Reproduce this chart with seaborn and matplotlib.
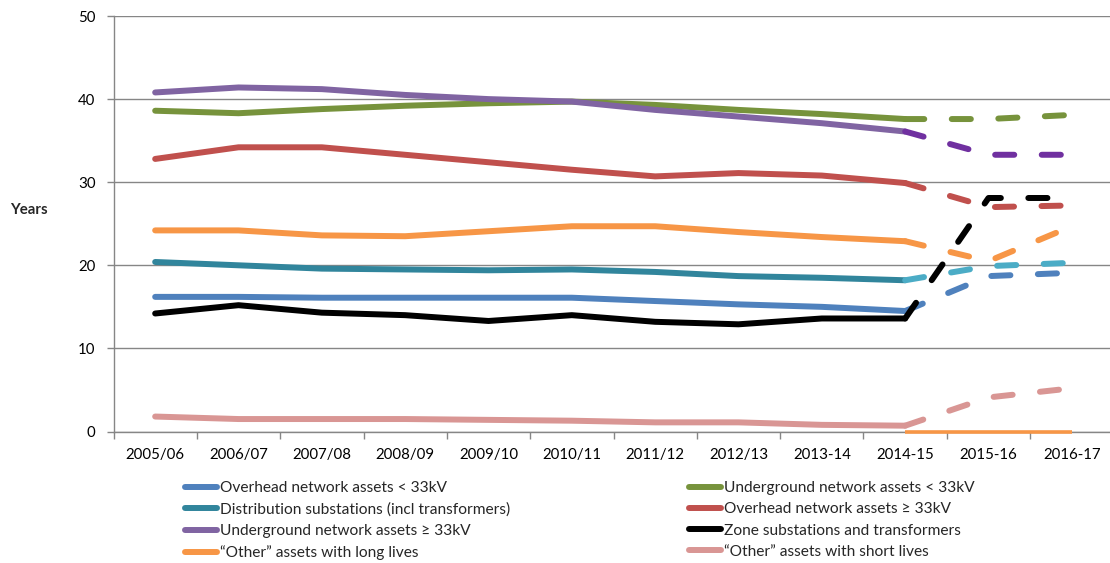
import matplotlib
matplotlib.use("Agg")
import matplotlib.pyplot as plt
from matplotlib.lines import Line2D
from matplotlib.ticker import FixedLocator, NullFormatter
import seaborn as sns
import pandas as pd

categories = ['2005/06', '2006/07', '2007/08', '2008/09', '2009/10', '2010/11',
              '2011/12', '2012/13', '2013-14', '2014-15', '2015-16', '2016-17']
hist_cats = categories[:10]
fcst_cats = categories[9:]

series_names = [
    'Overhead network assets < 33kV',
    'Distribution substations (incl transformers)',
    'Underground network assets ≥ 33kV',
    '“Other” assets with long lives',
    'Underground network assets < 33kV',
    'Overhead network assets ≥ 33kV',
    'Zone substations and transformers',
    '“Other” assets with short lives',
]

overhead_lt33 = [16.2, 16.2, 16.1, 16.1, 16.1, 16.1, 15.7, 15.3, 15.0, 14.5]
distribution = [20.4, 20.0, 19.6, 19.5, 19.4, 19.5, 19.2, 18.7, 18.5, 18.2]
underground_ge33 = [40.8, 41.4, 41.2, 40.5, 40.0, 39.7, 38.7, 37.9, 37.1, 36.1]
other_long = [24.2, 24.2, 23.6, 23.5, 24.1, 24.7, 24.7, 24.0, 23.4, 22.9]
underground_lt33 = [38.6, 38.3, 38.8, 39.2, 39.5, 39.7, 39.3, 38.7, 38.2, 37.6]
overhead_ge33 = [32.8, 34.2, 34.2, 33.3, 32.4, 31.5, 30.7, 31.1, 30.8, 29.9]
zone = [14.2, 15.2, 14.3, 14.0, 13.3, 14.0, 13.2, 12.9, 13.6, 13.6]
other_short = [1.8, 1.5, 1.5, 1.5, 1.4, 1.3, 1.1, 1.1, 0.8, 0.7]

# forecast (dashed) values: 2014-15, 2015-16, 2016-17
overhead_lt33_f = [14.5, 18.7, 19.1]
distribution_f = [18.2, 19.9, 20.3]
underground_ge33_f = [36.1, 33.3, 33.3]
other_long_f = [22.9, 20.5, 24.7]
underground_lt33_f = [37.6, 37.6, 38.1]
overhead_ge33_f = [29.9, 27.0, 27.2]
zone_f = [13.6, 28.1, 28.1]
other_short_f = [0.7, 4.1, 5.2]
other_long_zero = [0.0, 0.0, 0.0]

hist = [overhead_lt33, distribution, underground_ge33, other_long,
        underground_lt33, overhead_ge33, zone, other_short]
fcst = [overhead_lt33_f, distribution_f, underground_ge33_f, other_long_f,
        underground_lt33_f, overhead_ge33_f, zone_f, other_short_f]

solid_colors = ['#4F81BD', '#31859C', '#8064A2', '#F79646',
                '#77933C', '#C0504D', '#000000', '#D99694']
dash_colors = ['#4F81BD', '#4BACC6', '#7030A0', '#F79646',
               '#77933C', '#C0504D', '#000000', '#D99694']

sns.set_style('white')
plt.rcParams['font.family'] = ['Lato', 'DejaVu Sans']

fig = plt.figure(figsize=(11.1, 5.63), dpi=100)
ax = fig.add_axes([113.5 / 1110, (563 - 431.5) / 563, 1000 / 1110, 415.5 / 563])

LW = 4.3
grid_c = '#868686'

draw_order = [0, 4, 1, 5, 2, 6, 3, 7]
for i in draw_order:
    df_h = pd.DataFrame({'period': hist_cats, 'years': hist[i]})
    sns.lineplot(data=df_h, x='period', y='years', ax=ax, sort=False,
                 color=solid_colors[i], lw=LW, solid_capstyle='round',
                 solid_joinstyle='round', zorder=3)

df_zero = pd.DataFrame({'period': fcst_cats, 'years': other_long_zero})
sns.lineplot(data=df_zero, x='period', y='years', ax=ax, sort=False,
             color='#F79646', lw=2.6, solid_capstyle='butt', zorder=5, clip_on=False)

for i in draw_order:
    df_f = pd.DataFrame({'period': fcst_cats, 'years': fcst[i]})
    sns.lineplot(data=df_f, x='period', y='years', ax=ax, sort=False,
                 color=dash_colors[i], lw=LW, linestyle=(0, (3.2, 4.6)),
                 dash_capstyle='round', dash_joinstyle='round', zorder=4)

ax.set_xlim(-0.5, len(categories) - 0.5)
ax.set_ylim(0, 50)
ax.set_yticks(range(0, 51, 10))
ax.xaxis.set_major_locator(FixedLocator(list(range(len(categories)))))
ax.set_xticklabels(categories)
ax.xaxis.set_minor_locator(FixedLocator([k - 0.5 for k in range(len(categories) + 1)]))
ax.xaxis.set_minor_formatter(NullFormatter())
ax.tick_params(axis='x', which='major', length=0, pad=12, labelsize=10.8, colors='black')
ax.tick_params(axis='x', which='minor', length=5, width=1, color=grid_c, bottom=True)
ax.tick_params(axis='y', which='major', length=5, width=1, color=grid_c, pad=8,
               labelsize=10.8, labelcolor='black', left=True)
ax.grid(axis='y', color=grid_c, lw=1)
ax.grid(axis='x', visible=False)
ax.set_axisbelow(True)
for s in ['top', 'right']:
    ax.spines[s].set_visible(False)
for s in ['left', 'bottom']:
    ax.spines[s].set_color(grid_c)
    ax.spines[s].set_linewidth(1)
ax.set_xlabel('')
ax.set_ylabel('')

fig.text(10 / 1110, 1 - 210 / 563, 'Years', fontsize=10.8, fontweight='bold',
         ha='left', va='center')

handles = [Line2D([0], [0], color=solid_colors[i], lw=LW, solid_capstyle='round')
           for i in range(8)]
leg_kw = dict(loc='upper left', frameon=False, fontsize=11.2, borderpad=0,
              borderaxespad=0, handlelength=2.05, handletextpad=0.18, labelspacing=0.47)
leg1 = fig.legend(handles[:4], series_names[:4],
                  bbox_to_anchor=(185 / 1110, 1 - 481 / 563), **leg_kw)
leg2 = fig.legend(handles[4:], series_names[4:],
                  bbox_to_anchor=(689 / 1110, 1 - 481 / 563), **leg_kw)

fig.savefig('out.png', dpi=100)
